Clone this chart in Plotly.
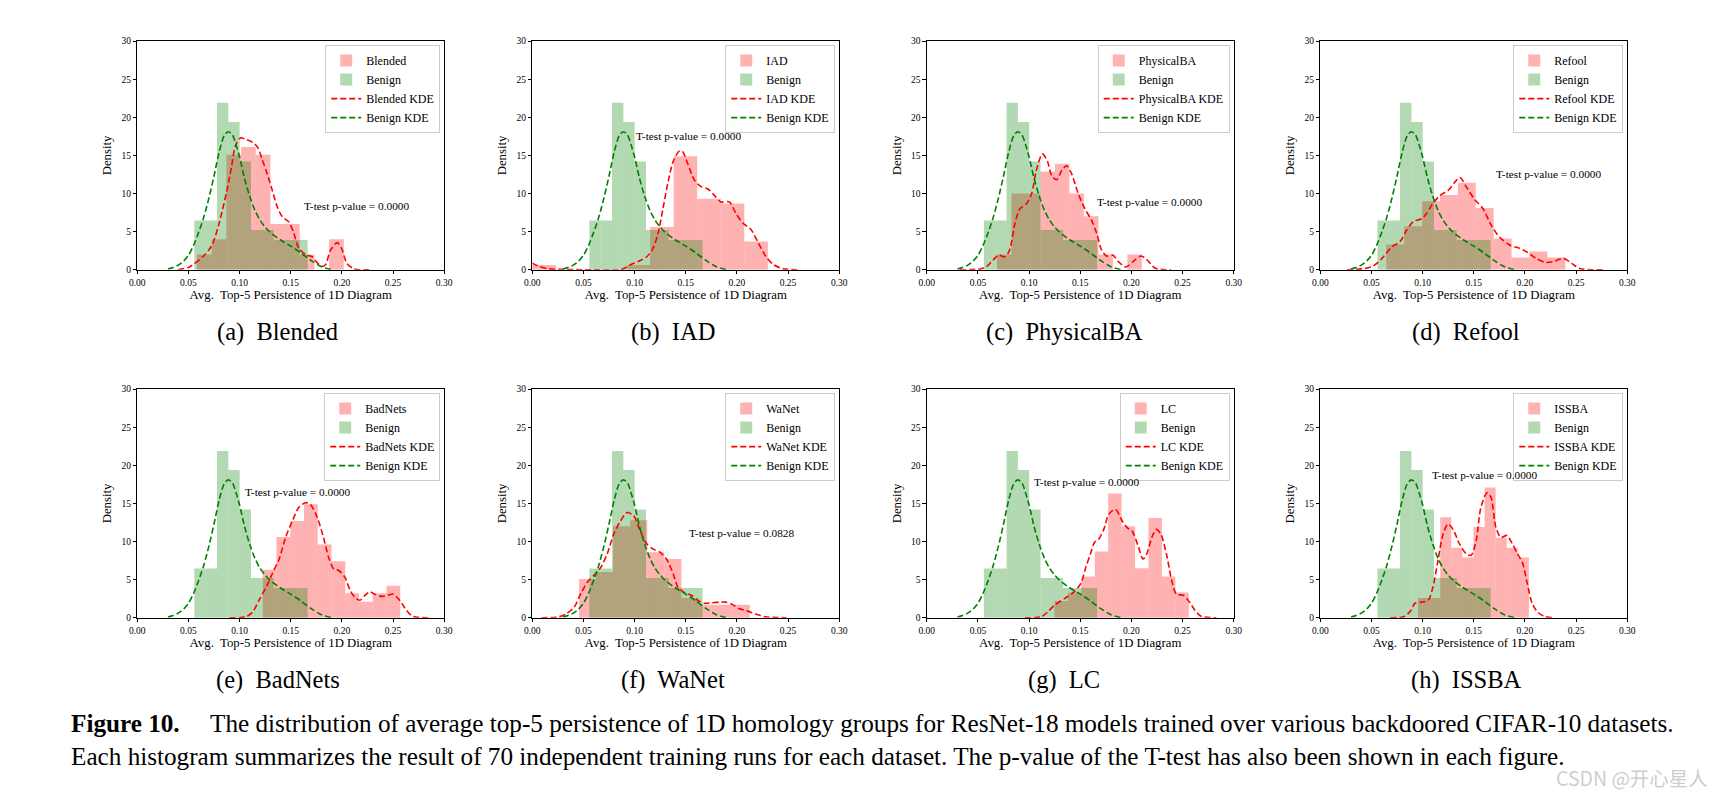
import numpy as np
import plotly.graph_objects as go

# dataset names / captions
names = ["Blended", "IAD", "PhysicalBA", "Refool", "BadNets", "WaNet", "LC", "ISSBA"]
sub_tags = ["(a)", "(b)", "(c)", "(d)", "(e)", "(f)", "(g)", "(h)"]
p_values = ["0.0000", "0.0000", "0.0000", "0.0000", "0.0000", "0.0828", "0.0000", "0.0000"]
p_text_x = [0.161, 0.099, 0.164, 0.170, 0.1035, 0.151, 0.103, 0.107]
p_text_y = [8.3, 17.5, 8.9, 12.5, 16.5, 11.07, 17.8, 18.67]

# histogram ranges (min, max of data, 10 bins) and densities
benign_range = (0.0558, 0.1665)
benign_hist = [6.45, 6.45, 21.9, 19.4, 14.2, 5.2, 5.2, 3.9, 3.9, 3.9]

attack_ranges = [
    (0.0584, 0.2019), (0.0, 0.2303), (0.0686, 0.2102), (0.0644, 0.2395),
    (0.1226, 0.2571), (0.0457, 0.2125), (0.1248, 0.2561), (0.0955, 0.2039),
]
blended_hist = [2.0, 4.0, 15.1, 16.1, 15.1, 6.0, 6.0, 2.0, 0.0, 4.0]
iad_hist = [0.62, 0.0, 0.0, 0.0, 0.62, 5.6, 14.9, 9.3, 8.7, 3.7]
physba_hist = [2.0, 10.0, 10.0, 12.9, 13.9, 10.0, 7.0, 2.0, 0.0, 2.0]
refool_hist = [3.3, 5.7, 9.0, 9.8, 11.4, 8.1, 4.1, 1.6, 2.4, 1.6]
badnets_hist = [6.3, 10.6, 12.7, 14.9, 9.6, 7.4, 3.2, 2.1, 3.2, 4.2]
wanet_hist = [5.1, 6.0, 12.0, 12.8, 8.6, 7.7, 2.6, 1.7, 1.7, 1.7]
lc_hist = [2.2, 3.3, 5.4, 8.7, 16.3, 12.0, 6.5, 13.1, 5.4, 3.3]
issba_hist = [2.6, 2.6, 13.2, 9.2, 7.9, 11.9, 17.1, 10.5, 9.2, 7.9]

# KDE curves
benign_kde_x = [0.030, 0.035, 0.040, 0.045, 0.050, 0.055, 0.060, 0.065, 0.070, 0.075, 0.080, 0.085,
                0.089, 0.093, 0.097, 0.100, 0.105, 0.110, 0.115, 0.120, 0.125, 0.130, 0.140, 0.150,
                0.160, 0.170, 0.180, 0.190]
benign_kde_y = [0.1, 0.3, 0.6, 1.1, 1.9, 3.2, 4.9, 6.9, 9.4, 12.3, 15.4, 17.6, 18.1, 17.7, 16.2, 14.8,
                11.9, 9.6, 7.8, 6.5, 5.6, 4.9, 3.9, 3.1, 2.2, 1.2, 0.4, 0.0]

blended_kde_x = [0.040, 0.050, 0.055, 0.064, 0.070, 0.074, 0.080, 0.087, 0.092, 0.096, 0.101, 0.106,
                 0.113, 0.118, 0.122, 0.127, 0.132, 0.137, 0.142, 0.148, 0.153, 0.158, 0.165, 0.171,
                 0.176, 0.181, 0.184, 0.189, 0.1955, 0.200, 0.205, 0.212, 0.230]
blended_kde_y = [0.0, 0.3, 0.7, 1.7, 2.6, 3.5, 6.1, 10.0, 13.4, 16.3, 17.3, 17.1, 16.7, 16.0, 14.5, 12.6,
                 10.4, 8.2, 6.9, 6.3, 4.8, 2.8, 1.95, 1.7, 0.9, 0.45, 0.65, 2.6, 3.55, 2.7, 0.8, 0.1, 0.0]

iad_kde_x = [0.0, 0.0055, 0.015, 0.028, 0.05, 0.086, 0.090, 0.096, 0.104, 0.112, 0.118, 0.123, 0.128,
             0.133, 0.138, 0.144, 0.147, 0.152, 0.1587, 0.165, 0.1716, 0.178, 0.1845, 0.1926, 0.199,
             0.206, 0.2136, 0.221, 0.2285, 0.236, 0.245, 0.262]
iad_kde_y = [0.87, 0.5, 0.13, 0.05, 0.0, 0.0, 0.2, 0.65, 1.1, 1.7, 2.8, 4.8, 8.2, 11.7, 14.3, 15.6, 15.5,
             13.9, 11.7, 10.9, 10.6, 9.75, 8.9, 8.9, 7.4, 6.1, 5.3, 3.5, 1.7, 0.65, 0.13, 0.0]

physba_kde_x = [0.0325, 0.052, 0.0586, 0.065, 0.070, 0.0765, 0.081, 0.0862, 0.091, 0.0976, 0.1025,
                0.107, 0.113, 0.118, 0.122, 0.127, 0.1318, 0.1366, 0.1415, 0.148, 0.1545, 0.161, 0.166,
                0.1708, 0.1757, 0.182, 0.187, 0.1945, 0.2035, 0.2095, 0.2153, 0.2232, 0.239]
physba_kde_y = [0.0, 0.1, 0.43, 1.3, 1.9, 1.7, 2.6, 6.1, 8.0, 8.7, 10.0, 13.0, 15.2, 14.2, 12.35, 11.8,
                13.0, 13.65, 12.6, 10.0, 8.0, 6.5, 4.8, 2.6, 1.8, 1.9, 1.1, 0.35, 1.3, 1.8, 1.3, 0.2, 0.0]

refool_kde_x = [0.026, 0.042, 0.052, 0.0617, 0.0698, 0.078, 0.0844, 0.0909, 0.099, 0.104, 0.110, 0.117,
                0.125, 0.1315, 0.1365, 0.143, 0.151, 0.159, 0.167, 0.175, 0.185, 0.195, 0.2028, 0.2107,
                0.2205, 0.2285, 0.2375, 0.246, 0.254, 0.276]
refool_kde_y = [0.0, 0.13, 0.5, 1.7, 3.0, 3.7, 5.2, 6.3, 6.7, 7.4, 8.7, 9.75, 10.4, 11.5, 12.1, 10.8, 9.2,
                8.0, 5.85, 4.3, 3.25, 2.8, 2.25, 1.5, 0.95, 1.1, 1.5, 0.8, 0.13, 0.0]

badnets_kde_x = [0.0903, 0.1065, 0.113, 0.119, 0.126, 0.132, 0.1387, 0.145, 0.1516, 0.158, 0.1645, 0.169,
                 0.1758, 0.182, 0.187, 0.192, 0.197, 0.203, 0.208, 0.213, 0.2177, 0.2226, 0.2274, 0.232,
                 0.2387, 0.245, 0.250, 0.2565, 0.263, 0.269, 0.287]
badnets_kde_y = [0.0, 0.13, 0.8, 2.3, 4.0, 5.8, 7.7, 10.55, 12.7, 14.5, 15.1, 14.9, 13.2, 10.55, 7.95, 6.4,
                 6.2, 5.3, 3.6, 2.65, 2.3, 2.95, 3.4, 3.1, 2.8, 2.95, 3.1, 2.3, 1.0, 0.2, 0.0]

wanet_kde_x = [0.009, 0.025, 0.033, 0.041, 0.0476, 0.054, 0.0605, 0.0669, 0.0733, 0.0797, 0.0862, 0.0926,
               0.099, 0.1055, 0.1119, 0.1183, 0.1248, 0.1312, 0.1376, 0.1424, 0.1489, 0.1553, 0.1617,
               0.168, 0.1746, 0.1826, 0.189, 0.1955, 0.202, 0.210, 0.218, 0.2277, 0.2486]
wanet_kde_y = [0.0, 0.1, 0.5, 1.4, 3.2, 4.7, 5.6, 6.6, 8.4, 11.0, 12.7, 13.8, 13.4, 11.4, 9.7, 9.0, 8.6,
               7.7, 5.8, 4.0, 3.3, 2.95, 2.3, 1.9, 1.95, 2.05, 2.05, 1.75, 1.2, 0.9, 0.5, 0.13, 0.0]

lc_kde_x = [0.0958, 0.112, 0.1184, 0.1248, 0.1345, 0.144, 0.1506, 0.1555, 0.160, 0.164, 0.168, 0.173,
            0.178, 0.1845, 0.191, 0.196, 0.2006, 0.207, 0.2113, 0.215, 0.220, 0.2242, 0.2287, 0.2345,
            0.2394, 0.244, 0.2506, 0.2555, 0.262, 0.268, 0.283]
lc_kde_y = [0.0, 0.13, 0.8, 1.65, 2.5, 3.4, 4.5, 6.65, 8.4, 9.9, 10.3, 11.6, 13.6, 14.2, 12.7, 11.8, 11.4,
            9.25, 7.7, 8.4, 10.55, 11.6, 11.0, 8.2, 4.9, 3.1, 2.95, 2.3, 1.0, 0.2, 0.0]

issba_kde_x = [0.0684, 0.0813, 0.0877, 0.0926, 0.099, 0.1055, 0.110, 0.115, 0.120, 0.1248, 0.1297, 0.136,
               0.1426, 0.1474, 0.1523, 0.157, 0.1629, 0.1668, 0.1716, 0.1765, 0.1823, 0.1877, 0.1926,
               0.1974, 0.2023, 0.207, 0.212, 0.2184, 0.228]
issba_kde_y = [0.0, 0.13, 0.8, 1.9, 2.05, 2.3, 4.0, 7.5, 11.0, 12.3, 11.6, 9.7, 8.4, 8.2, 10.1, 14.5, 16.4,
               15.8, 11.85, 10.55, 10.8, 9.7, 8.4, 7.3, 4.5, 1.9, 0.8, 0.2, 0.0]

attack_hists = [blended_hist, iad_hist, physba_hist, refool_hist,
                badnets_hist, wanet_hist, lc_hist, issba_hist]
attack_kdes = [(blended_kde_x, blended_kde_y), (iad_kde_x, iad_kde_y), (physba_kde_x, physba_kde_y),
               (refool_kde_x, refool_kde_y), (badnets_kde_x, badnets_kde_y), (wanet_kde_x, wanet_kde_y),
               (lc_kde_x, lc_kde_y), (issba_kde_x, issba_kde_y)]

x_ticks = [0.0, 0.05, 0.10, 0.15, 0.20, 0.25, 0.30]
y_ticks = [0, 5, 10, 15, 20, 25, 30]

# page geometry (pixels of the 1717x805 window); the html body has an 8px margin
OFF = 8
FW, FH = 1717 - 2 * OFF, 805 - 2 * OFF
col_left = [130.5, 529.5, 928.0, 1325.5]
row_top = [36.5, 389.0]
pw, ph = 310.0, 231.5
sub_cx = [272.5, 672, 1067, 1473]
sub_cy = [331, 684]


def px(v):
    return (v - OFF) / FW


def py(v):
    return 1 - (v - OFF) / FH


FONT = "Liberation Serif"
RED_FILL = "rgba(255,0,0,0.3)"
GREEN_FILL = "rgba(0,128,0,0.3)"


def bins(lo, hi):
    edges = np.linspace(lo, hi, 11)
    return (edges[:-1] + edges[1:]) / 2, edges[1] - edges[0]


fig = go.Figure()
layout = {}
annotations = []

for k, name in enumerate(names):
    r, c = divmod(k, 4)
    n = "" if k == 0 else str(k + 1)
    xa, ya = "x" + n, "y" + n
    leg = "legend" + n

    x0, x1 = px(col_left[c]), px(col_left[c] + pw)
    y1, y0 = py(row_top[r]), py(row_top[r] + ph)

    ac, aw = bins(*attack_ranges[k])
    bc, bw = bins(*benign_range)
    fig.add_trace(go.Bar(x=ac, y=attack_hists[k], width=aw, name=name,
                         marker=dict(color=RED_FILL, line=dict(width=0)),
                         xaxis=xa, yaxis=ya, legend=leg))
    fig.add_trace(go.Bar(x=bc, y=benign_hist, width=bw, name="Benign",
                         marker=dict(color=GREEN_FILL, line=dict(width=0)),
                         xaxis=xa, yaxis=ya, legend=leg))
    kx, ky = attack_kdes[k]
    fig.add_trace(go.Scatter(x=kx, y=ky, mode="lines", name=name + " KDE",
                             line=dict(color="red", width=1.6, dash="6px,3px", shape="spline", smoothing=0.8),
                             xaxis=xa, yaxis=ya, legend=leg))
    fig.add_trace(go.Scatter(x=benign_kde_x, y=benign_kde_y, mode="lines", name="Benign KDE",
                             line=dict(color="green", width=1.6, dash="6px,3px", shape="spline", smoothing=0.8),
                             xaxis=xa, yaxis=ya, legend=leg))

    layout["xaxis" + n] = dict(
        domain=[x0, x1], anchor=ya, range=[0, 0.30], tickvals=x_ticks, tickformat=".2f",
        ticks="outside", ticklen=3.5, tickwidth=0.8, tickcolor="black",
        showline=True, linecolor="black", linewidth=1, mirror=True,
        showgrid=False, zeroline=False, tickfont=dict(size=9.5),
        title=dict(text="Avg.  Top-5 Persistence of 1D Diagram", font=dict(size=12.8), standoff=3),
    )
    layout["yaxis" + n] = dict(
        domain=[y0, y1], anchor=xa, range=[0, 30], tickvals=y_ticks,
        ticks="outside", ticklen=3.5, tickwidth=0.8, tickcolor="black",
        showline=True, linecolor="black", linewidth=1, mirror=True,
        showgrid=False, zeroline=False, tickfont=dict(size=9.5),
        title=dict(text="Density", font=dict(size=12.8), standoff=6),
    )
    layout[leg] = dict(
        x=x1 - 4 / FW, y=y1 - 4 / FH, xanchor="right", yanchor="top",
        bgcolor="rgba(255,255,255,0.8)", bordercolor="#cccccc", borderwidth=1,
        font=dict(size=12, family=FONT), tracegroupgap=0, itemwidth=30,
    )

    annotations.append(dict(
        x=p_text_x[k], y=p_text_y[k], xref=xa, yref=ya, xanchor="left", yanchor="middle",
        text="T-test p-value = " + p_values[k], showarrow=False, font=dict(size=11.3),
    ))
    annotations.append(dict(
        x=px(sub_cx[c]), y=py(sub_cy[r]), xref="paper", yref="paper",
        xanchor="center", yanchor="middle", showarrow=False,
        text=sub_tags[k] + "  " + name, font=dict(size=24.5),
    ))

# figure caption
annotations.append(dict(x=px(62), y=py(727.5), xref="paper", yref="paper", xanchor="left", yanchor="middle",
                        showarrow=False, text="<b>Figure 10.</b>", font=dict(size=25.2)))
annotations.append(dict(x=px(202), y=py(727.5), xref="paper", yref="paper", xanchor="left", yanchor="middle",
                        showarrow=False, font=dict(size=25.2),
                        text="The distribution of average top-5 persistence of 1D homology groups for "
                             "ResNet-18 models trained over various backdoored CIFAR-10 datasets."))
annotations.append(dict(x=px(62), y=py(761), xref="paper", yref="paper", xanchor="left", yanchor="middle",
                        showarrow=False, font=dict(size=25.2),
                        text="Each histogram summarizes the result of 70 independent training runs for "
                             "each dataset. The p-value of the T-test has also been shown in each figure."))
# watermark
annotations.append(dict(x=px(1640), y=py(782), xref="paper", yref="paper", xanchor="center",
                        yanchor="middle", showarrow=False, text="CSDN @开心星人",
                        font=dict(size=19.5, family="Noto Sans CJK SC", color="rgba(170,170,170,0.6)")))

fig.update_layout(**layout)
fig.update_layout(
    width=FW, height=FH, margin=dict(l=0, r=0, t=0, b=0),
    paper_bgcolor="white", plot_bgcolor="white",
    font=dict(family=FONT, color="black"),
    barmode="overlay", annotations=annotations,
)

fig.write_html("out.html")
